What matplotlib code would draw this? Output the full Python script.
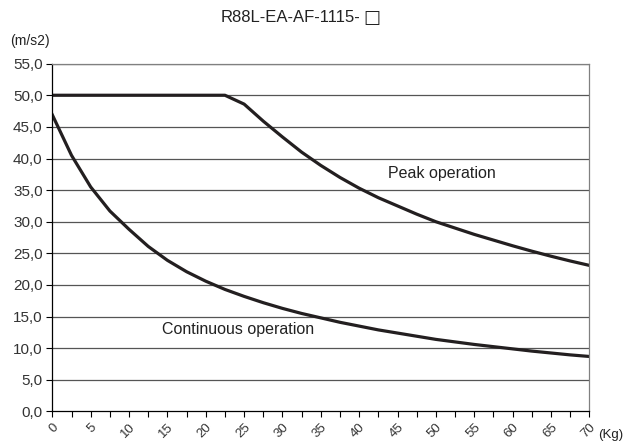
import numpy as np
import matplotlib.pyplot as plt

plt.rcParams['font.family'] = ['Liberation Sans', 'DejaVu Sans']

# Masa de carga (Kg), puntos cada 2.5
masa = np.arange(0, 70 + 2.5, 2.5)

# Aceleracion maxima (m/s2)
peak = [50.0, 50.0, 50.0, 50.0, 50.0, 50.0, 50.0, 50.0, 50.0, 50.0,
        48.6, 45.9, 43.4, 41.0, 38.9, 37.0, 35.3, 33.8, 32.5, 31.2,
        30.0, 29.0, 28.0, 27.1, 26.2, 25.35, 24.55, 23.8, 23.1]
continuous = [46.9, 40.5, 35.5, 31.7, 28.8, 26.1, 23.9, 22.1, 20.6, 19.3,
              18.2, 17.2, 16.3, 15.5, 14.8, 14.1, 13.5, 12.9, 12.4, 11.9,
              11.4, 11.0, 10.6, 10.25, 9.9, 9.55, 9.25, 8.95, 8.7]

x_labels = [str(v) for v in range(0, 75, 5)]
y_ticks = np.arange(0, 55 + 5, 5)

fig = plt.figure(figsize=(6.23, 4.45), dpi=100)
ax = fig.add_axes([0.084, 0.0753, 0.862, 0.7817])

ax.plot(masa, peak, color='#231f20', linewidth=2.3, solid_joinstyle='round')
ax.plot(masa, continuous, color='#231f20', linewidth=2.3, solid_joinstyle='round')

ax.set_xlim(0, 70)
ax.set_ylim(0, 55)

# Rejilla horizontal
for yv in y_ticks[1:]:
    ax.axhline(yv, color='#555555', linewidth=0.9, zorder=0)

ax.set_yticks(y_ticks)
ax.set_yticklabels([f'{v:.1f}'.replace('.', ',') for v in y_ticks], fontsize=11)
ax.set_xticks(np.arange(0, 75, 5))
ax.set_xticks(np.arange(2.5, 70, 5), minor=True)
ax.set_xticklabels(x_labels, rotation=45, ha='right', va='top', fontsize=9.5,
                   rotation_mode='anchor')
ax.tick_params(axis='x', which='both', length=4, width=0.8, color='black', pad=3)
ax.tick_params(axis='y', length=4, width=0.8, color='black', pad=3)

for lab in ax.get_xticklabels():
    lab.set_color('#333333')
for lab in ax.get_yticklabels():
    lab.set_color('#333333')

ax.spines['left'].set_color('black')
ax.spines['bottom'].set_color('black')
ax.spines['top'].set_color('#808080')
ax.spines['right'].set_color('#808080')
for s in ax.spines.values():
    s.set_linewidth(0.9)

ax.text(43.7, 37.6, 'Peak operation', fontsize=11.5, va='center', color='#222222')
ax.text(14.3, 13.0, 'Continuous operation', fontsize=11.5, va='center', color='#222222')

fig.text(360 / 623, 1 - 18 / 445, 'R88L-EA-AF-1115-', ha='right', va='center',
         fontsize=12, color='#222222')
fig.text(363 / 623, 1 - 18 / 445, '\u25a1', ha='left', va='center',
         fontsize=13, color='#222222', family='DejaVu Sans')
fig.text(10 / 623, 1 - 41 / 445, '(m/s2)', ha='left', va='center', fontsize=10,
         color='#222222')
fig.text(598 / 623, 1 - 435 / 445, '(Kg)', ha='left', va='center', fontsize=9.5,
         color='#222222')

fig.savefig('out.png', dpi=100, facecolor='white')
